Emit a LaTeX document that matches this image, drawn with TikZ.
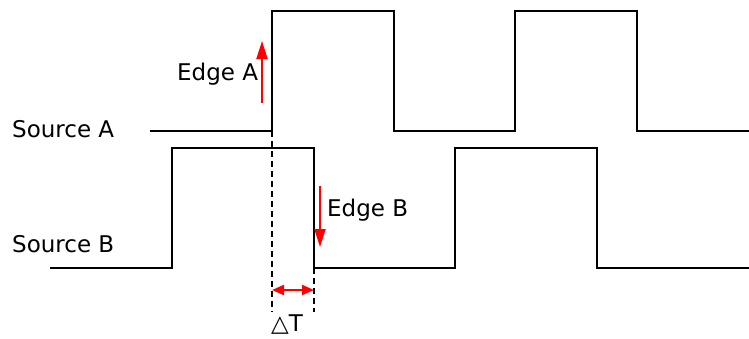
\documentclass[tikz,border=0pt]{standalone}
\usepackage{fontspec}
\setmainfont{DejaVu Sans}
\usetikzlibrary{arrows.meta}

\begin{document}
\begin{tikzpicture}[
    x=1pt, y=-1pt,
    >={Triangle[length=18pt,width=11pt]},
    every node/.style={font=\fontsize{23}{27}\selectfont, inner sep=0pt, anchor=base west},
    wave/.style={line width=2.2pt},
    guide/.style={line width=1.8pt, dash pattern=on 6pt off 4pt},
    edgearrow/.style={red, line width=2pt, ->},
    span/.style={red, line width=2pt, {Triangle[length=12pt,width=10pt]}-{Triangle[length=12pt,width=10pt]}}
]
\useasboundingbox (0,0) rectangle (749,338);

\node (srcA) at (12,137) {Source A};
\node (srcB) at (12,252) {Source B};

\node (edgeA) at (177,80) {Edge A};
\node (edgeB) at (327,216) {Edge B};

\node (dT) at (271,331) {△T};

% the two signals
\draw[wave] (150,131) -- (272,131) -- (272,11) -- (394,11) -- (394,131) -- (515,131)
    -- (515,11) -- (637,11) -- (637,131) -- (749,131);
\draw[wave] (50,268) -- (172,268) -- (172,148) -- (314,148) -- (314,268) -- (455,268)
    -- (455,148) -- (597,148) -- (597,268) -- (749,268);

\coordinate (gA1) at (272,131);
\coordinate (gA2) at (272,312);
\coordinate (gB1) at (314,268);
\coordinate (gB2) at (314,312);
\draw[guide] (gA1) -- (gA2);
\draw[guide] (gB1) -- (gB2);

\coordinate (eA1) at (262,103);
\coordinate (eA2) at (262,41);
\coordinate (eB1) at (320,186);
\coordinate (eB2) at (320,247);
\draw[edgearrow] (eA1) -- (eA2);
\draw[edgearrow] (eB1) -- (eB2);

\coordinate (sA) at (272,290);
\coordinate (sB) at (314,290);
\draw[span] (sA) -- (sB);

\end{tikzpicture}
\end{document}
